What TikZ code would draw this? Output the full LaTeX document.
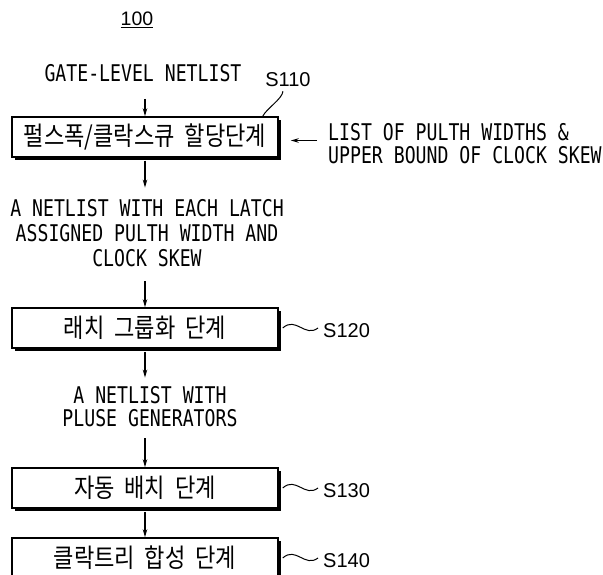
\documentclass[tikz,border=0pt]{standalone}
\usepackage{fontspec}
\setmainfont{DejaVu Sans Mono}[FakeStretch=0.79]
\newfontfamily\labelfont{Liberation Sans}
\newfontfamily\krfont{Noto Sans CJK KR}[WordSpace=2, FakeStretch=0.85]
\usetikzlibrary{arrows.meta,shadows,calc}
\begin{document}
\begin{tikzpicture}[x=1pt,y=-1pt,
  capt/.style={font=\fontsize{23}{24}\selectfont, inner sep=0pt},
  stepbox/.style={draw, line width=1.5pt, fill=white, minimum width=266pt,
    minimum height=40pt, inner sep=0pt, font=\krfont\fontsize{26}{28}\selectfont,
    drop shadow={shadow xshift=3pt, shadow yshift=-3pt, fill=black, opacity=1}},
  arr/.style={line width=1.2pt, -{Stealth[length=8pt,width=4.5pt]}},
  lead/.style={line width=1pt},
  slabel/.style={font=\labelfont\fontsize{20}{24}\selectfont, inner sep=0pt}]
\useasboundingbox (0,0) rectangle (603,575);

\node[inner sep=0pt, font=\labelfont\fontsize{19.5}{20}\selectfont] (n100) at (137,20) {\underline{100}};
\node[capt] (gate) at (143,73) {GATE-LEVEL NETLIST};
\node[stepbox] (b1) at (145,137) {펄스폭/클락스큐 할당단계};
\node[slabel] (l110) at (288,80) {S110};
\node[capt, anchor=west, align=left, font=\fontsize{23}{23}\selectfont] (list) at (328,143.5)
  {LIST OF PULTH WIDTHS \&\\UPPER BOUND OF CLOCK SKEW};
\node[capt, anchor=north, align=center, font=\fontsize{23}{25}\selectfont] (t1) at (147,199.6)
  {A NETLIST WITH EACH LATCH\\ASSIGNED PULTH WIDTH AND\\CLOCK SKEW};
\node[stepbox] (b2) at (145,328) {래치 그룹화 단계};
\node[slabel, anchor=west] (l120) at (323,331) {S120};
\node[capt, anchor=north, align=center, font=\fontsize{23}{23}\selectfont] (t2) at (150,386.6)
  {A NETLIST WITH\\PLUSE GENERATORS};
\node[stepbox] (b3) at (145,488) {자동 배치 단계};
\node[slabel, anchor=west] (l130) at (323,491) {S130};
\node[stepbox] (b4) at (145,558) {클락트리 합성 단계};
\node[slabel, anchor=west] (l140) at (323,561) {S140};

\coordinate (la) at ([yshift=3pt]list.west);

\draw[arr, shorten <=17pt] (gate.south -| b1.north) -- (b1.north);
\draw[arr, shorten <=3pt, shorten >=12pt] (b1.south) -- (t1.north -| b1.south);
\draw[arr, shorten <=14pt] (t1.south -| b2.north) -- (b2.north);
\draw[arr, shorten <=3pt, shorten >=9pt] (b2.south) -- (t2.north -| b2.south);
\draw[arr, shorten <=11pt] (t2.south -| b3.north) -- (b3.north);
\draw[arr, shorten <=3pt] (b3.south) -- (b4.north);
\draw[arr, shorten <=11pt, shorten >=12pt] (la) -- (la -| b1.east);

\draw[lead] ([xshift=-16pt]b1.north east) .. controls +(4,-8) and +(-1,8) .. ($(l110.south)+(-5,4)$);
\draw[lead] ([xshift=4pt]b2.east) .. controls +(13,-12) and +(-13,10) .. ([xshift=-5pt]l120.west |- b2.east);
\draw[lead] ([xshift=4pt]b3.east) .. controls +(13,-12) and +(-13,10) .. ([xshift=-5pt]l130.west |- b3.east);
\draw[lead] ([xshift=4pt]b4.east) .. controls +(13,-12) and +(-13,10) .. ([xshift=-5pt]l140.west |- b4.east);
\end{tikzpicture}
\end{document}
